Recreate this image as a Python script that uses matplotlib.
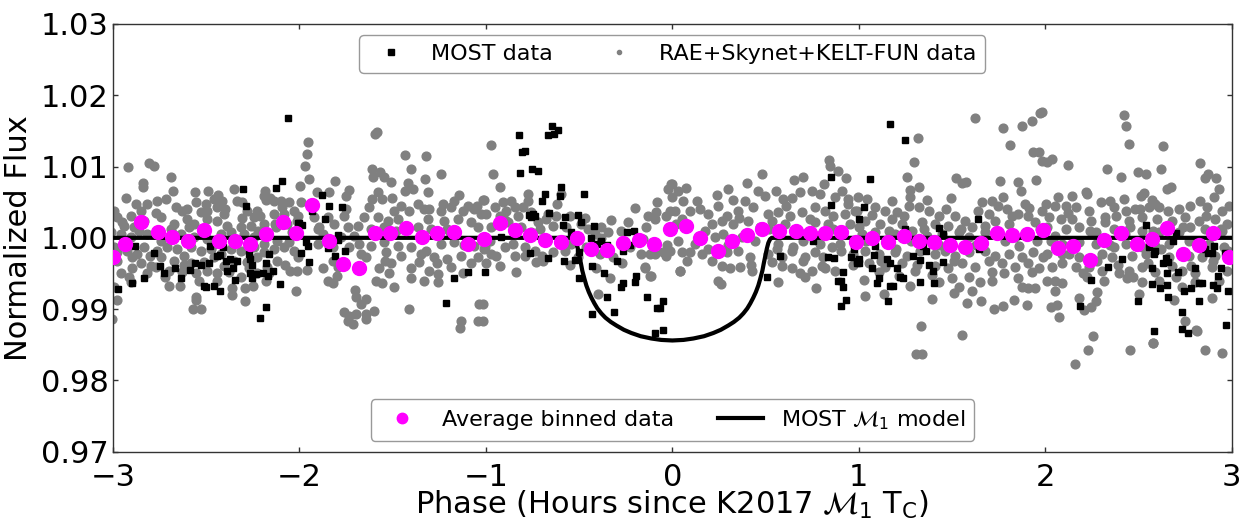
import matplotlib
matplotlib.use("Agg")
import matplotlib.pyplot as plt
import numpy as np
from matplotlib.lines import Line2D
from matplotlib.ticker import FormatStrFormatter

# ground-based photometry (phase in hours, normalized flux)
rae_data = [
    (-2.919, 1.0099), (-2.807, 1.0105), (-2.780, 1.0101), (-2.691, 1.0085), (-2.837, 1.0077),
    (-2.839, 1.0071), (-2.928, 1.0056), (-2.680, 1.0066), (-2.562, 1.0064), (-2.491, 1.0066),
    (-2.437, 1.0060), (-2.350, 1.0069), (-2.185, 1.0065), (-2.191, 1.0058), (-2.160, 1.0056),
    (-2.137, 1.0052), (-2.101, 1.0052), (-2.057, 1.0050), (-2.093, 1.0043), (-2.182, 1.0053),
    (-2.994, 1.0038), (-2.976, 1.0029), (-2.905, 1.0031), (-2.851, 1.0038), (-2.878, 1.0048),
    (-2.816, 1.0048), (-2.762, 1.0052), (-2.717, 1.0055), (-2.664, 1.0043), (-2.628, 1.0038),
    (-2.601, 1.0041), (-2.557, 1.0050), (-2.530, 1.0036), (-2.494, 1.0038), (-2.459, 1.0055),
    (-2.414, 1.0052), (-2.441, 1.0043), (-2.405, 1.0034), (-2.334, 1.0052), (-2.307, 1.0050),
    (-2.280, 1.0038), (-2.226, 1.0038), (-2.244, 1.0029), (-2.209, 1.0031), (-2.137, 1.0034),
    (-2.084, 1.0034), (-2.030, 1.0038), (-2.941, 1.0017), (-2.887, 1.0015), (-2.834, 1.0024),
    (-2.744, 1.0029), (-2.673, 1.0020), (-2.601, 1.0027), (-2.566, 1.0020), (-2.494, 1.0027),
    (-2.441, 1.0024), (-2.387, 1.0017), (-2.316, 1.0015), (-2.262, 1.0017), (-2.191, 1.0020),
    (-2.128, 1.0015), (-2.066, 1.0020), (-2.012, 1.0024), (-3.012, 1.0008), (-2.959, 1.0006),
    (-2.905, 1.0001), (-2.816, 1.0006), (-2.744, 0.9996), (-2.691, 1.0013), (-2.637, 1.0006),
    (-2.566, 1.0001), (-2.494, 0.9999), (-2.423, 1.0006), (-2.369, 1.0008), (-2.298, 1.0006),
    (-2.244, 1.0001), (-2.191, 0.9992), (-2.119, 0.9996), (-2.057, 0.9994), (-2.994, 0.9987),
    (-2.923, 0.9982), (-2.869, 0.9978), (-2.834, 0.9987), (-2.762, 0.9982), (-2.709, 0.9987),
    (-2.655, 0.9985), (-2.584, 0.9987), (-2.530, 0.9982), (-2.476, 0.9985), (-2.423, 0.9978),
    (-2.369, 0.9985), (-2.316, 0.9982), (-2.244, 0.9987), (-2.191, 0.9980), (-2.137, 0.9985),
    (-2.084, 0.9987), (-2.030, 0.9982), (-2.976, 0.9968), (-2.896, 0.9973), (-2.851, 0.9964),
    (-2.798, 0.9961), (-2.744, 0.9973), (-2.673, 0.9968), (-2.619, 0.9975), (-2.584, 0.9964),
    (-2.512, 0.9966), (-2.459, 0.9973), (-2.405, 0.9961), (-2.351, 0.9968), (-2.280, 0.9966),
    (-2.226, 0.9973), (-2.173, 0.9959), (-2.119, 0.9968), (-2.048, 0.9954), (-2.012, 0.9954),
    (-2.959, 0.9950), (-2.914, 0.9945), (-2.816, 0.9950), (-2.771, 0.9959), (-2.700, 0.9954),
    (-2.628, 0.9952), (-2.557, 0.9950), (-2.494, 0.9954), (-2.441, 0.9950), (-2.378, 0.9952),
    (-2.316, 0.9945), (-2.226, 0.9950), (-2.164, 0.9950), (-2.994, 0.9931), (-2.905, 0.9938),
    (-2.700, 0.9932), (-2.641, 0.9932), (-2.557, 0.9917), (-2.553, 0.9913), (-2.441, 0.9940),
    (-2.364, 0.9920), (-2.294, 0.9929), (-2.294, 0.9912), (-2.248, 0.9932), (-2.980, 0.9913),
    (-3.003, 0.9886), (-2.569, 0.9900), (-2.526, 0.9900),
    (-2.980, 0.9980), (-2.950, 1.0022), (-2.900, 0.9958), (-2.860, 1.0010), (-2.800, 0.9975),
    (-2.770, 1.0035), (-2.720, 0.9945), (-2.680, 1.0005), (-2.620, 0.9962), (-2.590, 1.0015),
    (-2.540, 0.9940), (-2.500, 1.0048), (-2.460, 0.9992), (-2.400, 1.0040), (-2.360, 0.9930),
    (-2.310, 1.0028), (-2.270, 0.9958), (-2.220, 1.0010), (-2.180, 0.9940), (-2.130, 1.0020),
    (-2.080, 0.9962), (-2.040, 1.0008),
    (-1.593, 1.0146), (-1.584, 1.0148), (-1.952, 1.0135), (-1.961, 1.0117), (-1.968, 1.0101),
    (-1.947, 1.0083), (-1.997, 1.0073), (-1.807, 1.0080), (-1.434, 1.0116), (-1.320, 1.0115),
    (-1.402, 1.0097), (-1.239, 1.0090), (-1.613, 1.0096), (-1.566, 1.0093), (-1.548, 1.0085),
    (-1.606, 1.0086), (-1.511, 1.0079), (-1.327, 1.0083), (-1.416, 1.0077), (-1.393, 1.0069),
    (-1.313, 1.0064), (-1.432, 1.0066), (-1.736, 1.0067), (-1.750, 1.0059), (-1.906, 1.0064),
    (-1.839, 1.0064), (-1.991, 1.0050), (-1.145, 1.0060), (-1.015, 1.0053), (-1.095, 1.0044),
    (-1.172, 1.0052), (-1.231, 1.0048), (-1.581, 1.0064), (-1.557, 1.0055), (-1.504, 1.0056),
    (-1.625, 1.0043), (-1.491, 1.0038), (-1.456, 1.0045), (-1.411, 1.0038), (-1.366, 1.0048),
    (-1.304, 1.0041), (-1.241, 1.0038), (-1.188, 1.0043), (-1.125, 1.0038), (-1.063, 1.0041),
    (-1.027, 1.0034), (-2.009, 1.0031), (-1.920, 1.0029), (-1.848, 1.0029), (-1.759, 1.0031),
    (-1.652, 1.0029), (-1.581, 1.0029), (-1.527, 1.0024), (-1.473, 1.0027), (-1.313, 1.0027),
    (-1.223, 1.0024), (-1.152, 1.0027), (-1.080, 1.0022), (-1.893, 1.0015), (-1.813, 1.0020),
    (-1.741, 1.0015), (-1.688, 1.0017), (-1.616, 1.0013), (-1.545, 1.0015), (-1.366, 1.0015),
    (-1.295, 1.0013), (-1.206, 1.0013), (-1.045, 1.0015), (-1.875, 1.0006), (-1.777, 1.0001),
    (-1.706, 1.0003), (-1.616, 0.9989), (-1.545, 0.9994), (-1.473, 0.9989), (-1.402, 0.9987),
    (-1.322, 0.9982), (-1.241, 0.9992), (-1.170, 0.9994), (-1.063, 0.9989), (-1.009, 0.9985),
    (-1.902, 0.9992), (-1.822, 0.9987), (-1.732, 0.9987), (-1.670, 0.9978), (-1.643, 0.9973),
    (-1.536, 0.9980), (-1.456, 0.9975), (-1.348, 0.9978), (-1.277, 0.9973), (-1.206, 0.9971),
    (-1.134, 0.9975), (-1.080, 0.9964), (-1.045, 0.9973), (-2.009, 0.9973), (-1.875, 0.9957),
    (-1.795, 0.9959), (-1.572, 0.9957), (-1.509, 0.9964), (-1.357, 0.9966), (-1.304, 0.9954),
    (-1.188, 0.9959), (-1.125, 0.9950), (-1.848, 0.9940), (-1.822, 0.9936), (-1.798, 0.9946),
    (-1.589, 0.9940), (-1.559, 0.9936), (-1.518, 0.9950), (-1.491, 0.9931), (-1.402, 0.9943),
    (-1.331, 0.9940), (-1.255, 0.9949), (-1.259, 0.9938), (-2.018, 0.9926), (-1.702, 0.9927),
    (-1.697, 0.9917), (-1.670, 0.9907), (-1.643, 0.9914), (-1.759, 0.9896), (-1.741, 0.9884),
    (-1.714, 0.9879), (-1.732, 0.9891), (-1.697, 0.9893), (-1.643, 0.9893), (-1.643, 0.9886),
    (-1.602, 0.9897), (-1.413, 0.9900), (-1.138, 0.9873), (-1.134, 0.9883), (-1.045, 0.9883),
    (-1.036, 0.9907),
    (-1.960, 0.9955), (-1.900, 1.0012), (-1.820, 0.9968), (-1.750, 1.0040), (-1.680, 0.9992),
    (-1.610, 1.0055), (-1.540, 0.9968), (-1.480, 1.0010), (-1.400, 0.9958), (-1.330, 1.0040),
    (-1.260, 0.9965), (-1.190, 1.0008), (-1.120, 0.9990), (-1.050, 1.0045),
    (-0.974, 1.0130), (-0.961, 1.0089), (-0.924, 1.0072), (-1.010, 1.0053), (-0.953, 1.0043),
    (-0.908, 1.0050), (-0.863, 1.0052), (-0.845, 1.0043), (-0.801, 1.0043), (-0.774, 1.0052),
    (-0.890, 1.0038), (-0.997, 1.0034), (-0.926, 1.0031), (-0.828, 1.0031), (-0.756, 1.0036),
    (-0.720, 1.0022), (-0.676, 1.0027), (-0.622, 1.0031), (-0.551, 1.0031), (-0.970, 1.0015),
    (-0.881, 1.0022), (-0.810, 1.0015), (-0.712, 1.0013), (-0.640, 1.0017), (-0.569, 1.0015),
    (-0.488, 1.0020), (-0.453, 1.0013), (-0.381, 1.0015), (-0.345, 1.0008), (-1.006, 0.9987),
    (-0.899, 0.9987), (-0.854, 0.9992), (-0.792, 0.9987), (-0.738, 0.9982), (-0.729, 0.9966),
    (-0.694, 0.9968), (-0.640, 0.9980), (-0.578, 0.9982), (-0.970, 0.9978), (-0.944, 0.9975),
    (-0.845, 0.9975), (-0.792, 0.9975), (-0.926, 0.9961), (-0.997, 0.9964), (-0.461, 0.9987),
    (-0.390, 0.9978), (-0.319, 0.9973), (-0.417, 1.0006), (-0.381, 1.0000), (-0.238, 1.0022),
    (-0.274, 1.0010), (-0.229, 0.9987), (-0.167, 0.9978), (-0.122, 0.9978), (-0.095, 0.9978),
    (-0.140, 1.0015), (-0.131, 1.0031), (-0.095, 1.0027), (-0.086, 1.0036), (-0.033, 1.0031),
    (-0.015, 1.0038), (-0.024, 1.0069), (-0.006, 1.0076), (-0.149, 0.9959), (-0.122, 0.9947),
    (-0.337, 0.9943), (-0.399, 0.9921), (-0.051, 0.9980), (-0.033, 0.9975), (-0.774, 1.0062),
    (-1.015, 0.9907), (-1.015, 0.9884), (-0.595, 1.0062), (-0.667, 1.0034), (-0.542, 0.9992),
    (-0.506, 0.9973), (-0.595, 0.9996), (-0.145, 0.9958), (-0.113, 0.9947), (0.043, 0.9953),
    (-0.980, 0.9995), (-0.900, 1.0025), (-0.840, 0.9952), (-0.760, 1.0008), (-0.700, 0.9975),
    (-0.620, 1.0048), (-0.550, 0.9962), (-0.470, 1.0028), (-0.410, 0.9958), (-0.330, 1.0025),
    (-0.270, 0.9965), (-0.200, 1.0042), (-0.160, 0.9998), (-0.080, 1.0050), (-0.030, 0.9990),
    (0.841, 1.0109), (0.848, 1.0101), (0.889, 1.0094), (0.934, 1.0084), (0.814, 1.0075),
    (0.479, 1.0090), (0.402, 1.0077), (0.654, 1.0081), (0.702, 1.0086), (0.297, 1.0069),
    (0.000, 1.0076), (0.032, 1.0065), (0.072, 1.0070), (0.457, 1.0066), (0.496, 1.0059),
    (0.554, 1.0065), (0.595, 1.0055), (0.640, 1.0056), (0.684, 1.0064), (0.747, 1.0066),
    (0.791, 1.0062), (0.872, 1.0057), (0.908, 1.0066), (0.943, 1.0055), (0.997, 1.0057),
    (0.059, 1.0052), (-0.004, 1.0057), (0.148, 1.0041), (0.247, 1.0045), (0.327, 1.0053),
    (0.389, 1.0052), (0.434, 1.0043), (0.014, 1.0038), (0.095, 1.0038), (0.193, 1.0034),
    (0.291, 1.0031), (0.354, 1.0038), (0.514, 1.0034), (0.568, 1.0036), (0.631, 1.0031),
    (0.693, 1.0036), (0.765, 1.0043), (0.818, 1.0038), (0.863, 1.0031), (0.925, 1.0034),
    (0.979, 1.0038), (0.050, 1.0027), (0.211, 1.0020), (0.264, 1.0024), (0.327, 1.0020),
    (0.407, 1.0024), (0.532, 1.0024), (0.604, 1.0020), (0.765, 1.0022), (0.836, 1.0020),
    (0.952, 1.0020), (0.032, 0.9996), (0.122, 0.9992), (0.175, 1.0010), (0.229, 1.0001),
    (0.273, 1.0006), (0.372, 1.0001), (0.443, 0.9996), (0.568, 0.9992), (0.649, 0.9987),
    (0.702, 0.9996), (0.791, 0.9992), (0.854, 0.9987), (-0.013, 0.9982), (0.050, 0.9980),
    (0.095, 0.9980), (0.157, 0.9978), (0.211, 0.9968), (0.291, 0.9980), (0.354, 0.9982),
    (0.416, 0.9973), (0.514, 0.9978), (0.586, 0.9973), (0.640, 0.9982), (0.711, 0.9973),
    (0.765, 0.9980), (0.809, 0.9973), (0.907, 0.9982), (0.970, 0.9978), (0.264, 0.9961),
    (0.309, 0.9957), (0.363, 0.9959), (0.425, 0.9954), (0.532, 0.9966), (0.586, 0.9961),
    (0.640, 0.9957), (0.684, 0.9950), (0.747, 0.9954), (0.800, 0.9961), (0.872, 0.9954),
    (0.041, 0.9953), (0.247, 0.9940), (0.261, 0.9935), (0.568, 0.9938), (0.773, 0.9929),
    (0.711, 0.9945),
    (0.020, 1.0020), (0.080, 0.9968), (0.130, 1.0052), (0.190, 0.9985), (0.240, 1.0060),
    (0.300, 0.9990), (0.360, 1.0028), (0.420, 0.9962), (0.470, 1.0015), (0.520, 1.0012),
    (0.560, 0.9985), (0.610, 1.0045), (0.660, 1.0008), (0.700, 0.9968), (0.740, 1.0026),
    (0.780, 1.0002), (0.820, 0.9958), (0.860, 1.0012), (0.900, 0.9992), (0.940, 1.0048),
    (0.970, 0.9962),
    (1.621, 1.0168), (1.773, 1.0154), (1.874, 1.0157), (1.928, 1.0164), (1.972, 1.0175),
    (1.315, 1.0140), (1.810, 1.0130), (1.933, 1.0121), (1.964, 1.0120), (1.298, 1.0107),
    (1.983, 1.0108), (1.256, 1.0085), (1.519, 1.0084), (1.553, 1.0077), (1.576, 1.0078),
    (1.755, 1.0080), (1.856, 1.0078), (1.951, 1.0081), (1.871, 1.0065), (1.276, 1.0067),
    (1.321, 1.0072), (1.492, 1.0056), (1.046, 1.0054), (1.178, 1.0052), (1.276, 1.0057),
    (1.365, 1.0053), (1.714, 1.0052), (1.776, 1.0057), (1.915, 1.0042), (0.990, 1.0038),
    (1.089, 1.0043), (1.142, 1.0038), (1.205, 1.0036), (1.267, 1.0045), (1.321, 1.0043),
    (1.374, 1.0038), (1.428, 1.0031), (1.517, 1.0031), (1.571, 1.0024), (1.642, 1.0038),
    (1.696, 1.0034), (1.749, 1.0045), (1.794, 1.0041), (1.856, 1.0034), (1.910, 1.0031),
    (1.981, 1.0038), (1.035, 1.0024), (1.115, 1.0020), (1.178, 1.0027), (1.231, 1.0020),
    (1.339, 1.0022), (1.410, 1.0020), (1.481, 1.0017), (1.606, 1.0015), (1.678, 1.0017),
    (1.731, 1.0024), (1.803, 1.0020), (1.946, 1.0022), (1.017, 1.0006), (1.089, 1.0008),
    (1.196, 1.0006), (1.285, 1.0010), (1.365, 1.0003), (1.446, 1.0006), (1.535, 1.0008),
    (1.589, 1.0001), (1.678, 1.0008), (1.785, 0.9996), (1.839, 1.0001), (1.955, 0.9996),
    (1.035, 0.9982), (1.106, 0.9978), (1.196, 0.9980), (1.258, 0.9975), (1.330, 0.9982),
    (1.410, 0.9978), (1.464, 0.9982), (1.517, 0.9975), (1.589, 0.9980), (1.678, 0.9982),
    (1.731, 0.9975), (1.803, 0.9978), (1.874, 0.9973), (1.937, 0.9980), (1.990, 0.9973),
    (1.053, 0.9964), (1.142, 0.9959), (1.231, 0.9964), (1.303, 0.9954), (1.410, 0.9961),
    (1.481, 0.9957), (1.553, 0.9964), (1.624, 0.9959), (1.714, 0.9952), (1.767, 0.9964),
    (1.839, 0.9959), (1.910, 0.9964), (1.964, 0.9957), (1.026, 0.9941), (1.106, 0.9952),
    (1.214, 0.9947), (1.276, 0.9933), (1.428, 0.9938), (1.499, 0.9943), (1.535, 0.9931),
    (1.606, 0.9926), (1.651, 0.9938), (1.712, 0.9940), (1.856, 0.9943), (1.874, 0.9931),
    (1.910, 0.9929), (1.946, 0.9929), (1.035, 0.9918), (1.137, 0.9921), (1.392, 0.9914),
    (1.508, 0.9923), (1.581, 0.9909), (1.655, 0.9911), (1.726, 0.9900), (1.775, 0.9904),
    (1.834, 0.9913), (1.901, 0.9906), (1.333, 0.9876), (1.555, 0.9863), (1.307, 0.9837),
    (1.341, 0.9837),
    (1.000, 1.0015), (1.040, 0.9995), (1.070, 1.0032), (1.120, 0.9968), (1.160, 1.0010),
    (1.200, 0.9985), (1.240, 1.0030), (1.280, 0.9995), (1.310, 0.9962), (1.350, 1.0012),
    (1.390, 0.9948), (1.430, 0.9990), (1.470, 1.0040), (1.510, 0.9968), (1.550, 1.0012),
    (1.590, 0.9945), (1.630, 0.9990), (1.660, 1.0050), (1.700, 0.9968), (1.740, 1.0008),
    (1.780, 0.9950), (1.820, 1.0030), (1.860, 0.9988), (1.890, 1.0048), (1.930, 0.9952),
    (1.970, 1.0012),
    (2.422, 1.0173), (2.431, 1.0157), (2.448, 1.0131), (2.632, 1.0129), (1.984, 1.0176),
    (2.011, 1.0107), (2.038, 1.0111), (2.122, 1.0102), (2.330, 1.0097), (2.404, 1.0086),
    (2.497, 1.0093), (2.541, 1.0089), (2.622, 1.0096), (2.832, 1.0105), (2.856, 1.0084),
    (2.872, 1.0090), (2.916, 1.0084), (2.930, 1.0069), (2.652, 1.0069), (2.677, 1.0072),
    (2.216, 1.0064), (2.225, 1.0062), (2.070, 1.0057), (2.141, 1.0058), (2.345, 1.0052),
    (2.422, 1.0055), (2.514, 1.0059), (2.532, 1.0063), (2.573, 1.0053), (2.591, 1.0048),
    (2.832, 1.0052), (2.904, 1.0057), (2.984, 1.0045), (2.002, 1.0048), (2.055, 1.0045),
    (2.109, 1.0045), (2.163, 1.0043), (2.234, 1.0038), (2.297, 1.0050), (2.368, 1.0043),
    (2.431, 1.0038), (2.484, 1.0041), (2.555, 1.0043), (2.609, 1.0043), (2.716, 1.0041),
    (2.779, 1.0044), (2.868, 1.0043), (2.948, 1.0038), (2.020, 1.0029), (2.082, 1.0027),
    (2.145, 1.0027), (2.243, 1.0024), (2.323, 1.0029), (2.377, 1.0031), (2.448, 1.0024),
    (2.520, 1.0029), (2.600, 1.0027), (2.680, 1.0024), (2.752, 1.0029), (2.823, 1.0024),
    (2.913, 1.0027), (2.975, 1.0020), (2.011, 1.0015), (2.109, 1.0013), (2.180, 1.0015),
    (2.270, 1.0008), (2.368, 1.0013), (2.457, 1.0015), (2.520, 1.0010), (2.609, 1.0008),
    (2.716, 1.0008), (2.779, 1.0015), (2.859, 1.0013), (2.948, 1.0010), (2.029, 0.9996),
    (2.091, 0.9992), (2.180, 0.9994), (2.270, 0.9992), (2.368, 0.9987), (2.431, 0.9992),
    (2.520, 0.9987), (2.591, 0.9989), (2.663, 0.9992), (2.770, 0.9996), (2.877, 0.9992),
    (2.957, 0.9987), (2.011, 0.9978), (2.127, 0.9978), (2.180, 0.9973), (2.305, 0.9978),
    (2.359, 0.9973), (2.466, 0.9975), (2.538, 0.9978), (2.663, 0.9973), (2.770, 0.9975),
    (2.841, 0.9973), (2.913, 0.9975), (2.038, 0.9959), (2.091, 0.9964), (2.163, 0.9959),
    (2.234, 0.9959), (2.305, 0.9954), (2.395, 0.9950), (2.448, 0.9954), (2.520, 0.9959),
    (2.591, 0.9952), (2.680, 0.9961), (2.734, 0.9954), (2.805, 0.9950), (2.895, 0.9959),
    (2.975, 0.9954), (2.055, 0.9940), (2.091, 0.9936), (2.225, 0.9945), (2.314, 0.9940),
    (2.439, 0.9943), (2.520, 0.9938), (2.609, 0.9940), (2.734, 0.9931), (2.805, 0.9938),
    (2.930, 0.9940), (2.055, 0.9925), (2.029, 0.9903), (2.064, 0.9906), (2.073, 0.9889),
    (2.180, 0.9915), (2.207, 0.9899), (2.248, 0.9903), (2.270, 0.9912), (2.279, 0.9924),
    (2.502, 0.9921), (2.689, 0.9913), (2.752, 0.9884), (2.895, 0.9915), (2.811, 0.9871),
    (2.257, 0.9862), (2.230, 0.9842), (2.157, 0.9823), (2.457, 0.9843), (2.577, 0.9853),
    (2.856, 0.9843), (2.948, 0.9839), (2.580, 0.9852), (2.814, 0.9870),
    (2.010, 0.9940), (2.050, 1.0002), (2.090, 0.9978), (2.120, 1.0035), (2.160, 0.9990),
    (2.200, 0.9950), (2.240, 1.0010), (2.280, 0.9968), (2.320, 1.0022), (2.350, 0.9990),
    (2.390, 0.9962), (2.430, 1.0005), (2.470, 0.9945), (2.510, 1.0040), (2.550, 0.9965),
    (2.580, 1.0010), (2.620, 0.9985), (2.660, 1.0038), (2.700, 0.9945), (2.740, 1.0015),
    (2.780, 0.9960), (2.820, 0.9990), (2.860, 1.0030), (2.900, 0.9968), (2.940, 1.0012),
    (2.980, 0.9982),
]

# MOST photometry
most_data = [
    (-2.059, 1.0168), (-2.092, 1.0080), (-2.128, 1.0070), (-2.305, 1.0069), (-2.284, 1.0045),
    (-2.009, 1.0021), (-2.882, 0.9988), (-2.782, 0.9979), (-2.750, 0.9960), (-2.726, 0.9951),
    (-2.667, 0.9958), (-2.635, 0.9944), (-2.589, 0.9955), (-2.562, 0.9965), (-2.530, 0.9962),
    (-2.487, 0.9964), (-2.480, 0.9989), (-2.444, 0.9974), (-2.426, 0.9976), (-2.412, 0.9987),
    (-2.396, 0.9967), (-2.373, 0.9970), (-2.358, 0.9958), (-2.335, 0.9967), (-2.391, 0.9954),
    (-2.348, 0.9941), (-2.510, 0.9933), (-2.500, 0.9931), (-2.460, 0.9932), (-2.428, 0.9926),
    (-2.269, 0.9978), (-2.266, 0.9971), (-2.257, 0.9962), (-2.267, 0.9951), (-2.253, 0.9944),
    (-2.235, 0.9949), (-2.197, 0.9951), (-2.181, 0.9965), (-2.165, 0.9978), (-2.167, 0.9946),
    (-2.143, 0.9953), (-2.106, 0.9935), (-2.181, 0.9903), (-2.212, 0.9888), (-2.975, 0.9928),
    (-2.900, 0.9936), (-2.835, 0.9943),
    (-1.881, 1.0060), (-1.843, 1.0045), (-1.773, 1.0043), (-1.934, 1.0037), (-1.863, 1.0027),
    (-2.004, 1.0021), (-1.986, 1.0018), (-1.795, 1.0004), (-1.964, 0.9994), (-1.952, 0.9989),
    (-1.848, 0.9986), (-1.795, 0.9997), (-1.757, 0.9982), (-1.993, 0.9979), (-1.811, 0.9975),
    (-1.950, 0.9966), (-1.095, 0.9952), (-1.006, 0.9952), (-1.173, 0.9944), (-1.214, 0.9908),
    (-0.824, 1.0144), (-0.647, 1.0157), (-0.615, 1.0151), (-0.633, 1.0146), (-0.669, 1.0144),
    (-0.808, 1.0120), (-0.792, 1.0122), (-0.819, 1.0091), (-0.754, 1.0097), (-0.720, 1.0094),
    (-0.599, 1.0071), (-0.476, 1.0062), (-0.683, 1.0061), (-0.701, 1.0052), (-0.604, 1.0059),
    (-0.770, 1.0032), (-0.745, 1.0034), (-0.756, 1.0029), (-0.735, 1.0030), (-0.663, 1.0035),
    (-0.578, 1.0029), (-0.508, 1.0032), (-0.588, 1.0018), (-0.545, 1.0008), (-0.420, 1.0017),
    (-0.438, 1.0000), (-0.385, 0.9996), (-0.402, 0.9992), (-0.353, 0.9990), (-0.245, 1.0008),
    (-0.208, 1.0010), (-0.228, 0.9990), (-0.765, 0.9979), (-0.669, 0.9972), (-0.581, 0.9968),
    (-0.524, 0.9969), (-0.503, 0.9980), (-0.492, 1.0022), (-0.429, 0.9960), (-0.369, 0.9951),
    (-0.299, 0.9967), (-0.262, 0.9981), (-0.194, 0.9947), (-0.503, 0.9943), (-0.262, 0.9936),
    (-0.277, 0.9931), (-0.202, 0.9938), (-0.352, 0.9917), (-0.433, 0.9893), (-0.315, 0.9896),
    (-0.137, 0.9917), (-0.052, 0.9912), (-0.084, 0.9902), (-0.065, 0.9902), (-0.095, 0.9867),
    (-0.052, 0.9871), (-0.917, 1.0001),
    (0.849, 1.0086), (0.849, 1.0046), (0.506, 0.9945), (0.575, 0.9975), (0.754, 0.9996),
    (0.834, 0.9973), (0.865, 0.9972), (0.916, 0.9952), (0.956, 0.9973), (0.972, 0.9984),
    (0.990, 0.9968), (0.988, 0.9964), (1.000, 1.0027), (0.886, 0.9940), (0.903, 0.9940),
    (0.913, 0.9931), (0.934, 0.9913), (0.903, 0.9905),
    (1.166, 1.0160), (1.246, 1.0137), (1.058, 1.0083), (1.026, 1.0043), (1.249, 1.0013),
    (1.428, 1.0014), (1.450, 1.0006), (1.642, 1.0026), (1.089, 0.9989), (1.080, 0.9976),
    (0.999, 0.9971), (0.999, 0.9964), (1.151, 0.9971), (1.165, 0.9964), (1.069, 0.9958),
    (1.110, 0.9943), (1.098, 0.9936), (1.169, 0.9933), (1.181, 0.9933), (1.155, 0.9912),
    (1.203, 0.9958), (1.219, 0.9945), (1.237, 0.9944), (1.289, 0.9974), (1.326, 0.9969),
    (1.358, 0.9981), (1.342, 0.9988), (1.374, 0.9962), (1.398, 0.9953), (1.403, 0.9936),
    (1.326, 0.9938), (1.450, 0.9966), (1.646, 0.9985),
    (2.538, 1.0018), (2.699, 1.0007), (2.559, 0.9987), (2.589, 0.9981), (2.584, 0.9977),
    (2.414, 0.9971), (2.336, 0.9959), (2.248, 0.9941), (2.189, 0.9905), (2.495, 0.9912),
    (2.575, 0.9958), (2.575, 0.9935), (2.613, 0.9929), (2.630, 0.9965), (2.659, 0.9966),
    (2.645, 0.9972), (2.655, 0.9951), (2.655, 0.9934), (2.659, 0.9917), (2.714, 0.9952),
    (2.684, 0.9996), (2.736, 0.9896), (2.736, 0.9872), (2.766, 0.9867), (2.743, 0.9926),
    (2.784, 0.9929), (2.805, 0.9957), (2.822, 0.9912), (2.823, 0.9936), (2.841, 0.9936),
    (2.859, 0.9984), (2.874, 0.9979), (2.893, 0.9979), (2.907, 0.9989), (2.929, 0.9947),
    (2.945, 0.9958), (2.900, 0.9934), (2.923, 0.9929), (2.963, 0.9979), (2.981, 0.9925),
    (2.972, 0.9878), (2.581, 0.9869),
]

# averaged bins
bin_phase = [
    -3.000, -2.934, -2.850, -2.761, -2.685, -2.597, -2.513, -2.434, -2.348, -2.265,
    -2.180, -2.088, -2.020, -1.932, -1.841, -1.765, -1.681, -1.595, -1.513, -1.431,
    -1.344, -1.262, -1.173, -1.098, -1.011, -0.922, -0.843, -0.766, -0.682, -0.598,
    -0.513, -0.436, -0.350, -0.264, -0.181, -0.100, -0.013, 0.071, 0.150, 0.245,
    0.321, 0.402, 0.480, 0.570, 0.661, 0.739, 0.819, 0.903, 0.986, 1.071,
    1.155, 1.241, 1.322, 1.404, 1.490, 1.571, 1.654, 1.739, 1.820, 1.903,
    1.987, 2.071, 2.150, 2.242, 2.317, 2.408, 2.490, 2.570, 2.652, 2.737,
    2.826, 2.902, 2.986,
]
bin_flux = [
    0.99728, 0.99916, 1.00224, 1.00079, 1.00014, 0.99952, 1.00105, 0.99962, 0.99962, 0.99910,
    1.00058, 1.00219, 1.00070, 1.00463, 0.99952, 0.99626, 0.99575, 1.00067, 1.00072, 1.00136,
    1.00015, 1.00063, 1.00077, 0.99920, 0.99987, 1.00203, 1.00105, 1.00046, 0.99969, 0.99944,
    0.99996, 0.99839, 0.99826, 0.99930, 0.99972, 0.99909, 1.00123, 1.00168, 0.99997, 0.99811,
    0.99951, 1.00039, 1.00121, 1.00095, 1.00095, 1.00067, 1.00067, 1.00081, 0.99947, 1.00001,
    0.99938, 1.00022, 0.99958, 0.99945, 0.99899, 0.99874, 0.99924, 1.00063, 1.00039, 1.00056,
    1.00111, 0.99851, 0.99888, 0.99689, 0.99966, 1.00065, 0.99919, 0.99987, 1.00133, 0.99773,
    0.99895, 1.00063, 0.99738,
]

# MOST transit model
model_phase = [
    -3.0, -0.533, -0.524, -0.515, -0.507, -0.499, -0.491, -0.483, -0.472, -0.461,
    -0.448, -0.434, -0.418, -0.402, -0.381, -0.359, -0.330, -0.300, -0.260, -0.220,
    -0.170, -0.113, -0.060, 0.0, 0.060, 0.113, 0.170, 0.220, 0.260, 0.300,
    0.330, 0.359, 0.381, 0.402, 0.418, 0.434, 0.448, 0.461, 0.472, 0.483,
    0.491, 0.499, 0.507, 0.515, 0.524, 0.533, 3.0,
]
model_flux = [
    1.0, 1.0, 0.9998, 0.9993, 0.9985, 0.9975, 0.9965, 0.9954, 0.9943, 0.9933,
    0.9924, 0.9916, 0.9908, 0.9901, 0.9894, 0.9888, 0.9882, 0.9877, 0.9871, 0.98665,
    0.9862, 0.98588, 0.98568, 0.98560, 0.98568, 0.98588, 0.9862, 0.98665, 0.9871, 0.9877,
    0.9882, 0.9888, 0.9894, 0.9901, 0.9908, 0.9916, 0.9924, 0.9933, 0.9943, 0.9954,
    0.9965, 0.9975, 0.9985, 0.9993, 0.9998, 1.0, 1.0,
]

x_ticks = [-3, -2, -1, 0, 1, 2, 3]
y_ticks = [0.97, 0.98, 0.99, 1.00, 1.01, 1.02, 1.03]

plt.rcParams["font.family"] = "DejaVu Sans"
plt.rcParams["font.size"] = 22
plt.rcParams["xtick.direction"] = "in"
plt.rcParams["ytick.direction"] = "in"
plt.rcParams["xtick.top"] = True
plt.rcParams["ytick.right"] = True

rae_phase, rae_flux = np.array(rae_data).T
most_phase, most_flux = np.array(most_data).T

fig = plt.figure(figsize=(12.39, 5.19), dpi=100)
ax = fig.add_axes([0.0912, 0.1297, 0.9029, 0.8241])

ax.plot(rae_phase, rae_flux, "o", color="gray", mec="gray", ms=6.3, zorder=1)
ax.plot(most_phase, most_flux, "s", color="k", mec="k", ms=4, zorder=2)
ax.plot(model_phase, model_flux, "-", color="k", lw=3, zorder=3)
ax.plot(bin_phase, bin_flux, "o", color="magenta", mec="magenta", ms=10, zorder=4)

ax.set_xlim(-3, 3)
ax.set_ylim(0.97, 1.03)
ax.set_xticks(x_ticks)
ax.set_yticks(y_ticks)
ax.yaxis.set_major_formatter(FormatStrFormatter("%.2f"))
ax.tick_params(length=3.5, width=1, color="0.2")
ax.tick_params(axis="x", pad=8)
ax.tick_params(axis="y", pad=3)
for sp in ax.spines.values():
    sp.set_color("0.2")
    sp.set_linewidth(1.0)

ax.set_xlabel(r"Phase (Hours since K2017 $\mathcal{M}_1$ T$_\mathrm{C}$)", labelpad=-2)
ax.set_ylabel("Normalized Flux", labelpad=6)

leg_style = dict(ncol=2, fontsize=16, numpoints=1, fancybox=True,
                 framealpha=1, edgecolor="0.6")
top_handles = [
    Line2D([], [], ls="none", marker="s", color="k", ms=4),
    Line2D([], [], ls="none", marker="o", color="gray", mec="gray", ms=3),
]
leg_top = ax.legend(top_handles, ["MOST data", "RAE+Skynet+KELT-FUN data"],
                    loc="upper center", **leg_style)
ax.add_artist(leg_top)

bottom_handles = [
    Line2D([], [], ls="none", marker="o", color="magenta", mec="magenta", ms=7.5),
    Line2D([], [], color="k", lw=3),
]
ax.legend(bottom_handles, ["Average binned data", r"MOST $\mathcal{M}_1$ model"],
          loc="lower center", **leg_style)

fig.savefig("out.png", dpi=100)
